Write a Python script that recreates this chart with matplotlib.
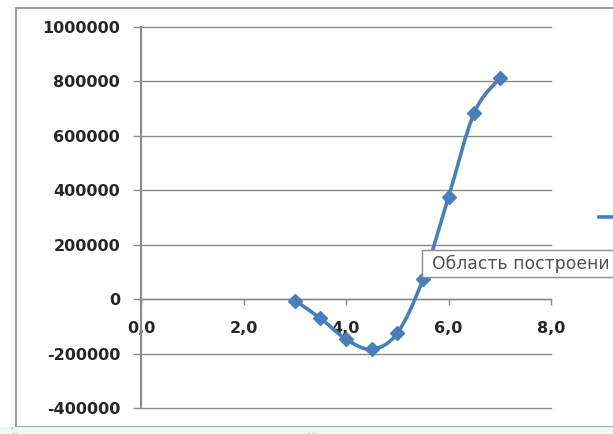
import matplotlib
matplotlib.use("Agg")
import matplotlib.pyplot as plt
from matplotlib.path import Path
from matplotlib.patches import PathPatch, Rectangle
from matplotlib.lines import Line2D
from matplotlib.ticker import FuncFormatter

# Series values
x_vals = [3.0, 3.5, 4.0, 4.5, 5.0, 5.5, 6.0, 6.5, 7.0]
y_vals = [-5000, -70000, -147000, -184000, -125000, 73000, 375000, 684000, 812000]

x_ticks = [0, 2, 4, 6, 8]
y_ticks = [-400000, -200000, 0, 200000, 400000, 600000, 800000, 1000000]

W, H = 613, 434
fig = plt.figure(figsize=(W / 100, H / 100), dpi=100)
fig.patch.set_facecolor("white")

def fx(px):
    return px / W

def fy(py):
    return 1 - py / H

# chart area frame and bottom strip
fig.patches.append(Rectangle((fx(16), fy(427)), fx(700), fy(8) - fy(427),
                             transform=fig.transFigure, fill=False,
                             edgecolor="#8c8c8c", linewidth=1.2, zorder=0))
fig.patches.append(Rectangle((0, 0), 1, fy(427), transform=fig.transFigure,
                             facecolor="#eef8fa", edgecolor="none", zorder=0))
fig.text(fx(311), fy(431), "....", fontsize=6, color="#8a8a8a",
         ha="center", va="center")
fig.text(fx(14), fy(431), "'..", fontsize=6, color="#8a8a8a",
         ha="center", va="center")

ax = fig.add_axes([fx(141), fy(408), fx(551) - fx(141), fy(27) - fy(408)])
ax.set_facecolor("none")
ax.set_xlim(0, 8)
ax.set_ylim(-400000, 1000000)

axis_gray = "#8a8a8a"
for s in ["top", "right"]:
    ax.spines[s].set_visible(False)
ax.spines["left"].set_color(axis_gray)
ax.spines["left"].set_linewidth(1.5)
ax.spines["bottom"].set_position(("data", 0))
ax.spines["bottom"].set_color(axis_gray)
ax.spines["bottom"].set_linewidth(1.0)

ax.set_yticks(y_ticks)
ax.set_xticks(x_ticks)
ax.yaxis.set_major_formatter(FuncFormatter(lambda v, p: f"{int(v)}"))
ax.xaxis.set_major_formatter(FuncFormatter(lambda v, p: f"{v:.1f}".replace(".", ",")))
ax.tick_params(axis="y", direction="out", length=6, width=1.0, color=axis_gray,
               pad=9, labelsize=11.5, labelcolor="#262626")
ax.tick_params(axis="x", direction="out", length=4.5, width=1.0, color=axis_gray,
               pad=11, labelsize=11.5, labelcolor="#262626")
for lab in ax.get_xticklabels() + ax.get_yticklabels():
    lab.set_fontweight("bold")
ax.grid(axis="y", color=axis_gray, linewidth=1.0)
for gl in ax.get_ygridlines():
    gl.set_clip_on(False)
ax.set_axisbelow(True)

# smoothed curve through the points (Catmull-Rom as cubic Bezier segments)
line_color = "#4a7ebb"
pts = list(zip(x_vals, y_vals))
verts = [pts[0]]
codes = [Path.MOVETO]
n = len(pts)
for i in range(n - 1):
    p0 = pts[i - 1] if i > 0 else pts[i]
    p1 = pts[i]
    p2 = pts[i + 1]
    p3 = pts[i + 2] if i + 2 < n else pts[i + 1]
    c1 = (p1[0] + (p2[0] - p0[0]) / 6, p1[1] + (p2[1] - p0[1]) / 6)
    c2 = (p2[0] - (p3[0] - p1[0]) / 6, p2[1] - (p3[1] - p1[1]) / 6)
    verts += [c1, c2, p2]
    codes += [Path.CURVE4] * 3
ax.add_patch(PathPatch(Path(verts, codes), fill=False, edgecolor=line_color,
                       linewidth=2.6, capstyle="round", joinstyle="round", zorder=3))
ax.plot(x_vals, y_vals, linestyle="none", marker="D", markersize=7.5,
        color=line_color, zorder=4, clip_on=False)

# partially visible legend key
fig.lines.append(Line2D([fx(599), fx(640)], [fy(217), fy(217)],
                        transform=fig.transFigure, color=line_color, linewidth=2.6))

# hover tip
fig.patches.append(Rectangle((fx(422), fy(277)), fx(300), fy(250) - fy(277),
                             transform=fig.transFigure, facecolor="white",
                             edgecolor="#8c8c8c", linewidth=1.0, zorder=5))
fig.text(fx(432), fy(263.5), "Область построени", fontsize=12.4,
         color="#505050", ha="left", va="center", zorder=6)

fig.savefig("out.png", dpi=100)
